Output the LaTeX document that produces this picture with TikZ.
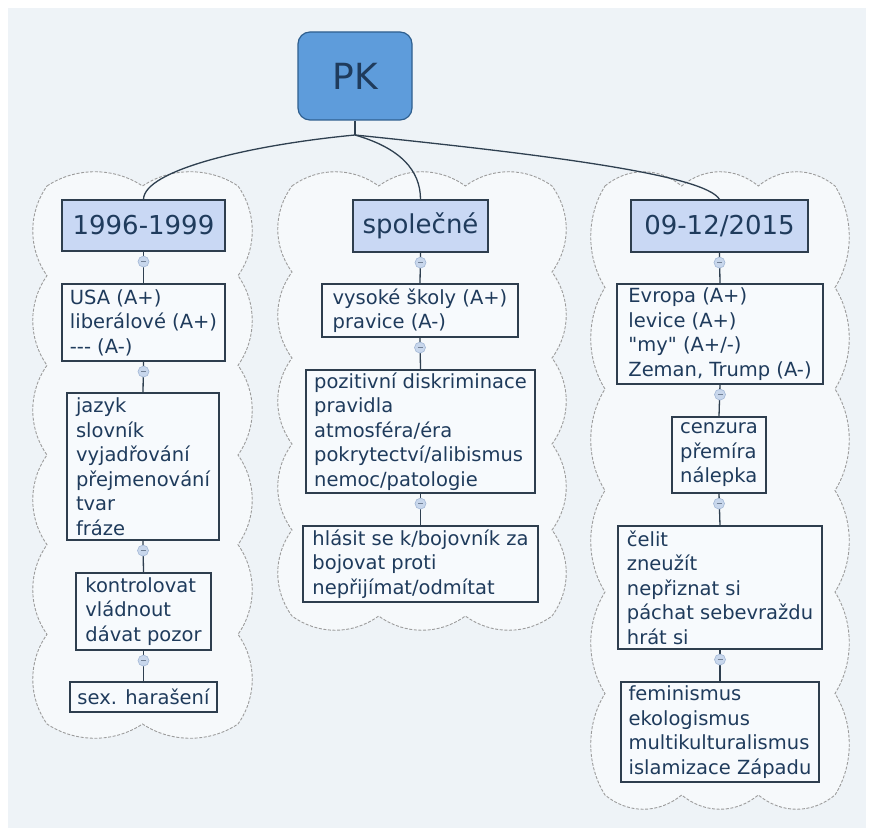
\documentclass[tikz,border=0pt]{standalone}
\usepackage{fontspec}
\setmainfont{DejaVu Sans}[Ligatures=TeXOff]
\definecolor{bgc}{HTML}{EEF3F7}
\definecolor{cloudfill}{HTML}{F6F9FB}
\definecolor{cloudc}{HTML}{9C9C9C}
\definecolor{boxline}{HTML}{2E3E4E}
\definecolor{boxfill}{HTML}{F7FAFD}
\definecolor{hdrfill}{HTML}{C9D8F4}
\definecolor{txt}{HTML}{1F3B5C}
\definecolor{linkc}{HTML}{2F4050}
\definecolor{knobfill}{HTML}{C8D7EC}
\definecolor{knobline}{HTML}{A3B8D6}
\definecolor{pkfill}{HTML}{5E9CDB}
\definecolor{pkline}{HTML}{2F5F8F}
\newcommand{\scallop}[6]{%
  \pgfmathsetmacro\cbw{(#3-#1)/#5}%
  \pgfmathsetmacro\cbh{(#4-#2)/#6}%
  \pgfmathsetmacro\cbx{0.3*\cbw}%
  \pgfmathsetmacro\cby{0.3*\cbh}%
  \path[cloudline] (#1,#2)
    \foreach \i in {1,...,#5} { .. controls +(\cbx,-19) and +(-\cbx,-19) .. ({#1+\i*\cbw},#2) }
    \foreach \i in {1,...,#6} { .. controls +(19,\cby) and +(19,-\cby) .. (#3,{#2+\i*\cbh}) }
    \foreach \i in {1,...,#5} { .. controls +(-\cbx,19) and +(\cbx,19) .. ({#3-\i*\cbw},#4) }
    \foreach \i in {1,...,#6} { .. controls +(-19,-\cby) and +(-19,\cby) .. (#1,{#4-\i*\cbh}) }
    -- cycle;%
}
\tikzset{
  box/.style={draw=boxline, line width=1.2pt, fill=boxfill, text=txt,
    font=\fontsize{19.5}{24.5}\selectfont, align=left, inner sep=0pt},
  hdr/.style={draw=boxline, line width=1.2pt, fill=hdrfill, text=txt,
    font=\fontsize{26}{30}\selectfont, inner sep=0pt},
  link/.style={draw=linkc, line width=1.3pt},
  knob/.style={circle, draw=knobline, fill=knobfill, minimum size=11pt,
    inner sep=0pt, line width=0.6pt,
    path picture={\draw[draw=knobline!70!black, line width=0.7pt]
      ([xshift=-2.5pt]path picture bounding box.center) --
      ([xshift=2.5pt]path picture bounding box.center);}},
  cloudline/.style={draw=cloudc, dash pattern=on 3pt off 1.6pt,
    fill=cloudfill, line width=0.9pt},
  pkbox/.style={draw=pkline, line width=1.2pt, fill=pkfill, text=txt,
    rounded corners=12pt, font=\fontsize{36}{40}\selectfont,
    minimum width=114pt, minimum height=88pt, inner sep=0pt},
}
\begin{document}
\begin{tikzpicture}[x=1pt, y=-1pt]
\useasboundingbox (0,0) rectangle (871,829);
\fill[white] (0,0) rectangle (871,829);
\fill[bgc] (8,8) rectangle (866,828);

% clouds
\scallop{47}{186}{238}{724}{2}{6}
\scallop{292}{186}{552}{616}{3}{5}
\scallop{605}{186}{835}{795}{3}{6}

% root
\node[pkbox] (pk) at (355,76) {PK};
\coordinate (j) at (355,135);

% headers
\node[hdr, minimum width=163pt, minimum height=51pt] (hL) at (143.5,225.5) {1996-1999};
\node[hdr, minimum width=135pt, minimum height=52pt] (hM) at (420.5,226) {společné};
\node[hdr, minimum width=177pt, minimum height=52pt] (hR) at (719.5,226) {09-12/2015};

% left column
\node[box, minimum width=163pt, minimum height=77pt] (L1) at (143.5,322.5)
  {USA (A+)\\liberálové (A+)\\--- (A-)};
\node[box, minimum width=152pt, minimum height=147pt] (L2) at (143,466.5)
  {jazyk\\slovník\\vyjadřování\\přejmenování\\tvar\\fráze};
\node[box, minimum width=135pt, minimum height=77pt] (L3) at (143.5,611.5)
  {kontrolovat\\vládnout\\dávat pozor};
\node[box, minimum width=147pt, minimum height=30pt] (L4) at (143.5,697)
  {sex. harašení};

% middle column
\node[box, minimum width=196pt, minimum height=53pt] (M1) at (420,310.5)
  {vysoké školy (A+)\\pravice (A-)};
\node[box, minimum width=229pt, minimum height=123pt] (M2) at (420.5,431.5)
  {pozitivní diskriminace\\pravidla\\atmosféra/éra\\pokrytectví/alibismus\\nemoc/patologie};
\node[box, minimum width=235pt, minimum height=76pt] (M3) at (420.5,564)
  {hlásit se k/bojovník za\\bojovat proti\\nepřijímat/odmítat};

% right column
\node[box, minimum width=206pt, minimum height=100pt] (R1) at (720,334)
  {Evropa (A+)\\levice (A+)\\"my" (A+/-)\\Zeman, Trump (A-)};
\node[box, minimum width=94pt, minimum height=76pt] (R2) at (719,455)
  {cenzura\\přemíra\\nálepka};
\node[box, minimum width=204pt, minimum height=123pt] (R3) at (720,587.5)
  {čelit\\zneužít\\nepřiznat si\\páchat sebevraždu\\hrát si};
\node[box, minimum width=198pt, minimum height=100pt] (R4) at (720,732)
  {feminismus\\ekologismus\\multikulturalismus\\islamizace Západu};

% root connectors
\draw[link] (pk.south) -- (j);
\draw[link] (j) .. controls (250,145) and (144,170) .. (hL.north);
\draw[link] (j) .. controls (400,148) and (420.5,170) .. (hM.north);
\draw[link] (j) .. controls (550,155) and (705,175) .. (hR.north);

% column connectors with knobs
\foreach \a/\b in {hL/L1, L1/L2, L2/L3, L3/L4, hM/M1, M1/M2, M2/M3, hR/R1, R1/R2, R2/R3, R3/R4}{
  \draw[link] (\a.south) -- (\b.north);
  \node[knob] at ([yshift=-10pt]\a.south) {};
}
\end{tikzpicture}
\end{document}
